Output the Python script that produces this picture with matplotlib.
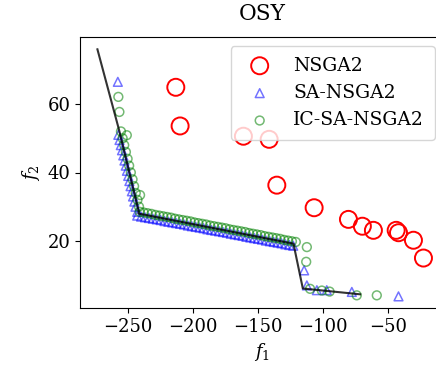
import numpy as np
import matplotlib
matplotlib.use('Agg')
import matplotlib.pyplot as plt

plt.rcParams['font.family'] = 'DejaVu Serif'
plt.rcParams['mathtext.fontset'] = 'dejavuserif'
plt.rcParams['font.size'] = 13

# True Pareto front of OSY (piecewise)
front_f1 = [-273.6, -257.0, -241.8, -242.0, -122.8, -115.6, -71.5]
front_f2 = [76.0, 52.5, 28.6, 28.0, 19.2, 6.1, 4.4]

# NSGA2 final population
nsga2_f1 = [-213.3, -210.0, -161.3, -141.5, -135.6, -106.9, -80.5, -69.8,
            -61.3, -43.8, -42.0, -30.5, -22.8]
nsga2_f2 = [64.9, 53.6, 50.6, 49.7, 36.3, 29.7, 26.3, 24.3,
            23.1, 23.1, 22.4, 20.2, 15.0]

# SA-NSGA2 final population
sa_f1 = [-257.9,
         -257.5, -256.6, -255.6, -254.7, -253.7, -252.8, -251.8, -250.9,
         -249.9, -249.0, -248.1, -247.1, -246.2, -245.2, -244.3, -243.0,
         -243.0, -240.0, -237.0, -234.0, -231.0, -228.0, -225.0, -222.0,
         -219.0, -216.0, -213.0, -210.0, -207.0, -204.0, -201.0, -198.0,
         -195.0, -192.0, -189.0, -186.0, -183.0, -180.0, -177.0, -174.0,
         -171.0, -168.0, -165.0, -162.0, -159.0, -156.0, -153.0, -150.0,
         -147.0, -144.0, -141.0, -138.0, -135.0, -132.0, -129.0, -126.0,
         -123.0,
         -114.6, -112.5, -104.8, -97.2, -77.9, -42.0]
sa_f2 = [66.5,
         51.0, 49.5, 48.0, 46.5, 45.0, 43.5, 42.0, 40.5,
         39.0, 37.5, 36.0, 34.5, 33.0, 31.5, 30.0, 28.5,
         27.4, 27.1, 26.9, 26.7, 26.5, 26.3, 26.1, 25.8,
         25.6, 25.4, 25.2, 25.0, 24.8, 24.5, 24.3, 24.1,
         23.9, 23.7, 23.4, 23.2, 23.0, 22.8, 22.6, 22.4,
         22.1, 21.9, 21.7, 21.5, 21.2, 21.0, 20.8, 20.6,
         20.4, 20.1, 19.9, 19.7, 19.5, 19.3, 19.0, 18.8,
         18.6,
         11.4, 7.0, 5.6, 5.6, 5.1, 3.8]

# IC-SA-NSGA2 final population
ic_f1 = [-257.5, -256.7, -251.0,
         -255.5, -254.2, -253.0, -251.7, -250.4, -249.2, -247.9, -246.6,
         -245.4, -244.1, -240.8, -242.8, -241.6,
         -241.0, -238.0, -235.0, -232.0, -229.0, -226.0, -223.0, -220.0,
         -217.0, -214.0, -211.0, -208.0, -205.0, -202.0, -199.0, -196.0,
         -193.0, -190.0, -187.0, -184.0, -181.0, -178.0, -175.0, -172.0,
         -169.0, -166.0, -163.0, -160.0, -157.0, -154.0, -151.0, -148.0,
         -145.0, -142.0, -139.0, -136.0, -133.0, -130.0, -127.0, -124.0,
         -121.0,
         -112.5, -113.0, -110.0, -101.0, -95.0, -74.1, -58.7]
ic_f2 = [62.1, 57.7, 50.9,
         52.0, 50.0, 48.0, 46.0, 44.0, 42.0, 40.0, 38.0,
         36.0, 34.0, 33.4, 32.0, 30.0,
         28.5, 28.3, 28.1, 27.9, 27.6, 27.4, 27.2, 27.0,
         26.8, 26.5, 26.3, 26.1, 25.9, 25.7, 25.4, 25.2,
         25.0, 24.8, 24.5, 24.3, 24.1, 23.9, 23.7, 23.4,
         23.2, 23.0, 22.8, 22.6, 22.3, 22.1, 21.9, 21.7,
         21.4, 21.2, 21.0, 20.8, 20.6, 20.3, 20.1, 19.9,
         19.7,
         18.2, 13.9, 6.0, 5.5, 5.2, 4.1, 4.1]

fig = plt.figure(figsize=(4.36, 3.65), dpi=100)
ax = fig.add_axes([80/436., 57/365., 364/436., 271/365.])

ax.scatter(nsga2_f1, nsga2_f2, s=150, facecolors='none', edgecolors='r',
           linewidths=1.4, label='NSGA2')
ax.scatter(sa_f1, sa_f2, s=40, marker='^', facecolors='none', edgecolors='b',
           linewidths=1.1, alpha=0.55, label='SA-NSGA2')
ax.scatter(ic_f1, ic_f2, s=40, marker='o', facecolors='none', edgecolors='g',
           linewidths=1.1, alpha=0.55, label='IC-SA-NSGA2')
ax.plot(front_f1, front_f2, '-', color='k', lw=1.5, alpha=0.8)

ax.set_xlim(-287, -7)
ax.set_ylim(0.4, 79.6)
ax.set_xticks([-250, -200, -150, -100, -50])
ax.set_yticks([20, 40, 60])
ax.set_xlabel('$f_1$')
ax.set_ylabel('$f_2$')
ax.set_title('OSY', pad=12)
ax.legend(loc='upper right', fontsize=13.5, borderpad=0.55)

plt.savefig('out.png', dpi=100)
